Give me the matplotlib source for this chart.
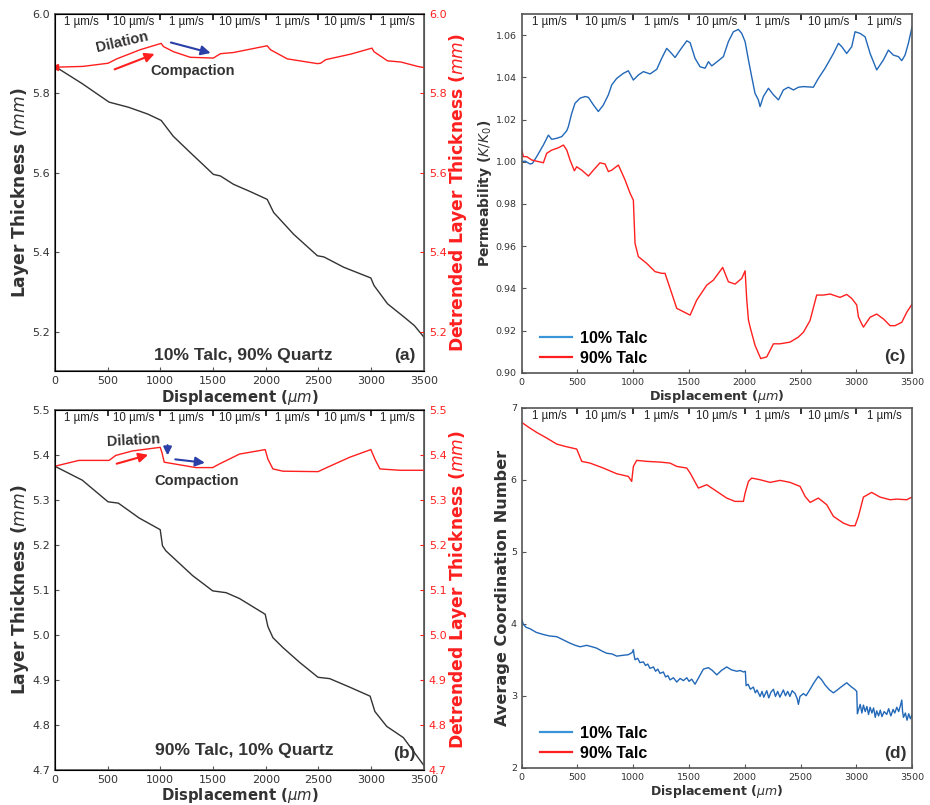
import matplotlib.pyplot as plt
from matplotlib.lines import Line2D
from matplotlib.transforms import blended_transform_factory

RED = '#ff1f1f'
BLUE = '#2268b8'
BLACK = '#333333'
GREY = '#555555'

speeds = ['1 µm/s', '10 µm/s', '1 µm/s', '10 µm/s', '1 µm/s', '10 µm/s', '1 µm/s']
step_edges = [500, 1000, 1500, 2000, 2500, 3000]
step_mids = [250, 750, 1250, 1750, 2250, 2750, 3250]

# (a) 10% talc, 90% quartz
a_x = [0, 257, 514, 700, 880, 1008, 1123, 1284, 1400, 1503, 1570, 1694, 1850, 2014, 2075,
       2265, 2490, 2552, 2740, 2997, 3027, 3155, 3310, 3410, 3500]
a_thick = [5.868, 5.825, 5.778, 5.765, 5.748, 5.732, 5.692, 5.651, 5.622, 5.596, 5.592, 5.571,
           5.553, 5.533, 5.500, 5.445, 5.391, 5.388, 5.362, 5.335, 5.316, 5.270, 5.237, 5.215, 5.186]
a_dx = [0, 266, 505, 587, 809, 1008, 1030, 1125, 1284, 1503, 1570, 1694, 2014, 2045, 2204,
        2490, 2521, 2569, 2807, 3007, 3027, 3155, 3283, 3440, 3500]
a_detr = [5.866, 5.868, 5.876, 5.887, 5.910, 5.926, 5.918, 5.905, 5.891, 5.889, 5.900, 5.903,
          5.920, 5.910, 5.887, 5.875, 5.876, 5.885, 5.899, 5.914, 5.905, 5.882, 5.879, 5.868, 5.865]

# (b) 90% talc, 10% quartz
b_x = [0, 260, 504, 602, 799, 999, 1021, 1053, 1306, 1497, 1624, 1751, 1995, 2020, 2068,
       2163, 2322, 2496, 2607, 2797, 2990, 3035, 3147, 3305, 3500]
b_thick = [5.375, 5.344, 5.296, 5.293, 5.260, 5.234, 5.198, 5.187, 5.132, 5.098, 5.094, 5.081,
           5.046, 5.019, 4.994, 4.972, 4.939, 4.906, 4.903, 4.884, 4.864, 4.830, 4.797, 4.772, 4.710]
b_dx = [0, 228, 514, 577, 736, 999, 1015, 1037, 1212, 1338, 1497, 1560, 1751, 1995, 2020,
        2068, 2163, 2496, 2607, 2797, 2997, 3035, 3083, 3273, 3500]
b_detr = [5.375, 5.388, 5.388, 5.399, 5.409, 5.417, 5.406, 5.384, 5.377, 5.372, 5.372, 5.380,
          5.402, 5.412, 5.391, 5.369, 5.364, 5.363, 5.375, 5.395, 5.412, 5.391, 5.369, 5.366, 5.366]

# (c) normalised permeability
c_blue_x = [0, 30, 75, 96, 134, 194, 239, 269, 314, 359, 404, 418, 448, 478, 523, 568, 598, 643,
            687, 732, 777, 807, 852, 912, 956, 1001, 1046, 1091, 1151, 1211, 1255, 1300, 1330,
            1375, 1420, 1480, 1510, 1554, 1599, 1644, 1674, 1704, 1764, 1808, 1853, 1898, 1943,
            1973, 2003, 2033, 2062, 2092, 2122, 2137, 2167, 2212, 2257, 2302, 2346, 2391, 2436,
            2481, 2526, 2615, 2660, 2720, 2795, 2840, 2870, 2914, 2959, 2989, 3034, 3079, 3124,
            3183, 3243, 3288, 3333, 3378, 3408, 3437, 3467, 3500]
c_blue = [1.000, 1.0003, 0.9989, 0.9992, 1.0024, 1.0079, 1.0126, 1.0106, 1.0111, 1.0119, 1.0147,
          1.0166, 1.0229, 1.0277, 1.0301, 1.0309, 1.0305, 1.0269, 1.0238, 1.0269, 1.0317, 1.0364,
          1.0395, 1.0419, 1.0431, 1.0387, 1.0411, 1.0427, 1.0416, 1.0438, 1.0490, 1.0537, 1.0521,
          1.0494, 1.0529, 1.0573, 1.0564, 1.0490, 1.0450, 1.0443, 1.0474, 1.0454, 1.0479, 1.0498,
          1.0569, 1.0616, 1.0627, 1.0608, 1.0569, 1.0482, 1.0403, 1.0324, 1.0293, 1.0261, 1.0309,
          1.0348, 1.0317, 1.0293, 1.0340, 1.0353, 1.0340, 1.0353, 1.0356, 1.0353, 1.0395, 1.0443,
          1.0513, 1.0561, 1.0545, 1.0513, 1.0545, 1.0616, 1.0608, 1.0592, 1.0513, 1.0435, 1.0482,
          1.0529, 1.0505, 1.0498, 1.0479, 1.0505, 1.0561, 1.0639]
c_red_x = [0, 15, 45, 90, 194, 224, 269, 329, 374, 404, 433, 472, 493, 538, 598, 643, 702, 747,
           777, 807, 867, 927, 972, 1001, 1016, 1046, 1121, 1196, 1255, 1285, 1330, 1390, 1450,
           1510, 1569, 1659, 1719, 1802, 1853, 1913, 1973, 2003, 2018, 2033, 2048, 2092, 2143,
           2197, 2257, 2316, 2406, 2481, 2526, 2585, 2645, 2705, 2765, 2854, 2914, 2959, 3004,
           3019, 3049, 3064, 3124, 3183, 3243, 3303, 3348, 3408, 3452, 3500]
c_red = [1.0055, 1.0024, 1.0024, 1.0008, 0.9995, 1.0040, 1.0055, 1.0066, 1.0079, 1.0055, 1.0008,
         0.9957, 0.9976, 0.9960, 0.9932, 0.9960, 0.9995, 0.9989, 0.9953, 0.9960, 0.9984, 0.9913,
         0.9850, 0.9818, 0.9613, 0.9550, 0.9518, 0.9479, 0.9471, 0.9471, 0.9400, 0.9305, 0.9289,
         0.9273, 0.9344, 0.9415, 0.9439, 0.9499, 0.9431, 0.9420, 0.9447, 0.9483, 0.9344, 0.9250,
         0.9216, 0.9130, 0.9067, 0.9075, 0.9137, 0.9137, 0.9145, 0.9169, 0.9192, 0.9247, 0.9368,
         0.9368, 0.9373, 0.9357, 0.9371, 0.9352, 0.9321, 0.9265, 0.9231, 0.9216, 0.9263, 0.9278,
         0.9255, 0.9223, 0.9223, 0.9239, 0.9286, 0.9325]

# (d) average coordination number
d_red_x = [0, 60, 134, 224, 314, 389, 493, 508, 538, 613, 732, 852, 956, 986, 1001, 1031, 1121,
           1240, 1330, 1390, 1480, 1510, 1584, 1659, 1749, 1838, 1913, 1988, 2003, 2033, 2062,
           2137, 2227, 2317, 2406, 2496, 2541, 2586, 2660, 2735, 2795, 2884, 2944, 2989, 3019,
           3064, 3138, 3213, 3303, 3363, 3452, 3500]
d_red = [6.796, 6.731, 6.657, 6.579, 6.495, 6.463, 6.426, 6.370, 6.255, 6.231, 6.162, 6.083,
         6.046, 5.977, 6.185, 6.269, 6.255, 6.245, 6.231, 6.185, 6.162, 6.093, 5.884, 5.931,
         5.838, 5.745, 5.699, 5.699, 5.815, 5.977, 6.023, 6.000, 5.963, 5.991, 5.963, 5.907,
         5.769, 5.685, 5.745, 5.653, 5.491, 5.398, 5.361, 5.361, 5.491, 5.759, 5.824, 5.759,
         5.722, 5.731, 5.722, 5.759]
d_blue_x = [0, 15, 40, 75, 130, 194, 250, 314, 380, 433, 480, 523, 583, 630, 673, 720, 762, 810,
            852, 900, 956, 990, 1001, 1008, 1016, 1040, 1060, 1091, 1110, 1130, 1150, 1181, 1200,
            1220, 1240, 1270, 1290, 1310, 1330, 1360, 1390, 1420, 1450, 1480, 1500, 1524, 1554,
            1590, 1629, 1674, 1710, 1749, 1790, 1838, 1880, 1928, 1960, 1988, 2005, 2012, 2030,
            2050, 2077, 2095, 2110, 2137, 2155, 2170, 2197, 2215, 2235, 2257, 2275, 2295, 2315,
            2346, 2365, 2385, 2405, 2425, 2451, 2470, 2481, 2495, 2526, 2550, 2586, 2620, 2660,
            2690, 2720, 2760, 2795, 2830, 2854, 2880, 2914, 2950, 2985, 3004, 3010, 3019, 3035,
            3050, 3064, 3080, 3095, 3110, 3124, 3140, 3155, 3170, 3183, 3200, 3215, 3230, 3250,
            3273, 3290, 3310, 3330, 3345, 3363, 3380, 3395, 3408, 3415, 3423, 3440, 3455, 3470,
            3485, 3500]
d_blue = [4.06, 3.99, 3.95, 3.93, 3.88, 3.85, 3.83, 3.82, 3.77, 3.73, 3.70, 3.68, 3.70, 3.68,
          3.66, 3.62, 3.59, 3.58, 3.55, 3.56, 3.57, 3.60, 3.64, 3.56, 3.50, 3.52, 3.46, 3.47,
          3.42, 3.44, 3.38, 3.40, 3.34, 3.37, 3.31, 3.33, 3.26, 3.28, 3.22, 3.25, 3.19, 3.24,
          3.21, 3.25, 3.20, 3.23, 3.16, 3.26, 3.37, 3.39, 3.35, 3.29, 3.35, 3.40, 3.36, 3.34,
          3.35, 3.33, 3.34, 3.14, 3.16, 3.09, 3.12, 3.04, 3.08, 2.99, 3.06, 2.98, 3.07, 2.97,
          3.05, 3.09, 2.99, 3.06, 2.98, 3.08, 3.00, 3.06, 2.99, 3.07, 3.03, 2.96, 2.88, 2.99,
          3.03, 3.00, 3.09, 3.18, 3.27, 3.22, 3.15, 3.08, 3.04, 3.08, 3.11, 3.14, 3.18, 3.13,
          3.09, 3.06, 2.75, 2.80, 2.88, 2.76, 2.87, 2.78, 2.85, 2.74, 2.84, 2.76, 2.83, 2.70,
          2.79, 2.72, 2.80, 2.71, 2.78, 2.74, 2.82, 2.72, 2.81, 2.76, 2.84, 2.78, 2.86, 2.94,
          2.78, 2.70, 2.76, 2.66, 2.75, 2.68, 2.74]

ann = dict(family='Liberation Sans', fontweight='bold', color='#333333')


def style_axes(ax, tick_size):
    ax.set_xlim(0, 3500)
    ax.set_xticks([0, 500, 1000, 1500, 2000, 2500, 3000, 3500])
    for s in ax.spines.values():
        s.set_color(GREY)
        s.set_linewidth(1.2)
    ax.tick_params(direction='in', length=3, labelsize=tick_size, colors=GREY, labelcolor='#333333')
    # rate steps along the top edge
    top = ax.secondary_xaxis('top')
    top.set_xticks(step_edges)
    top.set_xticklabels([])
    top.tick_params(direction='in', length=4, width=1.3, colors='#222222')
    top.spines['top'].set_visible(False)
    tr = blended_transform_factory(ax.transData, ax.transAxes)
    for xm, lab in zip(step_mids, speeds):
        ax.text(xm, 0.977, lab, transform=tr, ha='center', va='center',
                family='Liberation Sans', fontsize=8.3, color='#222222')


fig = plt.figure(figsize=(9.3, 8.05), dpi=100)

# ---- (a) ----
ax1 = fig.add_axes([0.059, 0.5388, 0.3968, 0.4438])
style_axes(ax1, 8)
ax1.set_ylim(5.1, 6.0)
ax1.set_yticks([5.2, 5.4, 5.6, 5.8, 6.0])
ax1.plot(a_x, a_thick, color=BLACK, lw=1.0)
ax1.set_ylabel('Layer Thickness ($mm$)', fontsize=12.3, fontweight='bold', color='#333333')
ax1.set_xlabel('Displacement ($\\mu m$)', fontsize=10.7, fontweight='bold', color='#333333', labelpad=1)
ax1.yaxis.set_label_coords(-0.065, 0.5)
ax1r = ax1.twinx()
ax1r.set_ylim(5.1, 6.0)
ax1r.set_yticks([5.2, 5.4, 5.6, 5.8, 6.0])
ax1r.plot(a_dx, a_detr, color=RED, lw=1.0)
ax1r.plot(a_dx[:1], a_detr[:1], marker='<', color=RED, ms=4)
ax1r.tick_params(direction='in', length=3, labelsize=8, colors=RED)
ax1r.spines['right'].set_color(GREY)
ax1r.set_ylabel('Detrended Layer Thickness ($mm$)', fontsize=12.3, fontweight='bold', color=RED)
ax1r.yaxis.set_label_coords(1.062, 0.5)
ax1r.text(637, 5.930, 'Dilation', rotation=13, ha='center', va='center', fontsize=10.5, **ann)
ax1r.text(1303, 5.856, 'Compaction', ha='center', va='center', fontsize=10.5, **ann)
ax1r.annotate('', xy=(970, 5.902), xytext=(542, 5.858),
              arrowprops=dict(arrowstyle='-|>', color=RED, lw=1.5, mutation_scale=14))
ax1r.annotate('', xy=(1503, 5.900), xytext=(1075, 5.930),
              arrowprops=dict(arrowstyle='-|>', color='#2a3fa8', lw=1.5, mutation_scale=14))
ax1.text(0.51, 0.045, '10% Talc, 90% Quartz', transform=ax1.transAxes, ha='center', va='center',
         fontsize=12.6, **ann)
ax1.text(0.948, 0.045, '(a)', transform=ax1.transAxes, ha='center', va='center', fontsize=12.6, **ann)

# ---- (b) ----
ax2 = fig.add_axes([0.059, 0.0435, 0.3968, 0.4472])
style_axes(ax2, 8)
ax2.set_ylim(4.7, 5.5)
ax2.set_yticks([4.7, 4.8, 4.9, 5.0, 5.1, 5.2, 5.3, 5.4, 5.5])
ax2.plot(b_x, b_thick, color=BLACK, lw=1.0)
ax2.set_ylabel('Layer Thickness ($mm$)', fontsize=12.3, fontweight='bold', color='#333333')
ax2.set_xlabel('Displacement ($\\mu m$)', fontsize=10.7, fontweight='bold', color='#333333', labelpad=1)
ax2.yaxis.set_label_coords(-0.065, 0.5)
ax2r = ax2.twinx()
ax2r.set_ylim(4.7, 5.5)
ax2r.set_yticks([4.7, 4.8, 4.9, 5.0, 5.1, 5.2, 5.3, 5.4, 5.5])
ax2r.plot(b_dx, b_detr, color=RED, lw=1.0)
ax2r.tick_params(direction='in', length=3, labelsize=8, colors=RED)
ax2r.spines['right'].set_color(GREY)
ax2r.set_ylabel('Detrended Layer Thickness ($mm$)', fontsize=12.3, fontweight='bold', color=RED)
ax2r.yaxis.set_label_coords(1.062, 0.5)
ax2r.text(745, 5.433, 'Dilation', rotation=3, ha='center', va='center', fontsize=10.5, **ann)
ax2r.text(1342, 5.342, 'Compaction', ha='center', va='center', fontsize=10.5, **ann)
ax2r.annotate('', xy=(910, 5.402), xytext=(561, 5.379),
              arrowprops=dict(arrowstyle='-|>', color=RED, lw=1.5, mutation_scale=14))
ax2r.annotate('', xy=(1069, 5.393), xytext=(1069, 5.428),
              arrowprops=dict(arrowstyle='-|>', color='#2a3fa8', lw=1.5, mutation_scale=12))
ax2r.annotate('', xy=(1449, 5.382), xytext=(1116, 5.391),
              arrowprops=dict(arrowstyle='-|>', color='#2a3fa8', lw=1.5, mutation_scale=14))
ax2.text(0.513, 0.054, '90% Talc, 10% Quartz', transform=ax2.transAxes, ha='center', va='center',
         fontsize=12.6, **ann)
ax2.text(0.946, 0.047, '(b)', transform=ax2.transAxes, ha='center', va='center', fontsize=12.6, **ann)

# ---- (c) ----
ax3 = fig.add_axes([0.561, 0.537, 0.4197, 0.4456])
style_axes(ax3, 6.8)
ax3.set_ylim(0.90, 1.07)
ax3.set_yticks([0.90, 0.92, 0.94, 0.96, 0.98, 1.00, 1.02, 1.04, 1.06])
ax3.set_yticklabels(['0.90', '0.92', '0.94', '0.96', '0.98', '1.00', '1.02', '1.04', '1.06'])
ax3.plot(c_blue_x, c_blue, color=BLUE, lw=1.0)
ax3.plot(c_red_x, c_red, color=RED, lw=1.0)
ax3.set_ylabel('Permeability ($K/K_0$)', fontsize=10, fontweight='bold', color='#333333')
ax3.set_xlabel('Displacement ($\\mu m$)', fontsize=9.2, fontweight='bold', color='#333333', labelpad=1)
ax3.yaxis.set_label_coords(-0.072, 0.5)
ax3.text(0.956, 0.045, '(c)', transform=ax3.transAxes, ha='center', va='center', fontsize=12.6, **ann)

# ---- (d) ----
ax4 = fig.add_axes([0.561, 0.0463, 0.4197, 0.4472])
style_axes(ax4, 6.8)
ax4.set_ylim(2, 7)
ax4.set_yticks([2, 3, 4, 5, 6, 7])
ax4.plot(d_blue_x, d_blue, color=BLUE, lw=1.0)
ax4.plot(d_red_x, d_red, color=RED, lw=1.0)
ax4.set_ylabel('Average Coordination Number', fontsize=11.6, fontweight='bold', color='#333333')
ax4.set_xlabel('Displacement ($\\mu m$)', fontsize=9, fontweight='bold', color='#333333', labelpad=1)
ax4.yaxis.set_label_coords(-0.03, 0.5)
ax4.text(0.956, 0.04, '(d)', transform=ax4.transAxes, ha='center', va='center', fontsize=12.6, **ann)

handles = [Line2D([], [], color='#3a95d8', lw=1.6), Line2D([], [], color=RED, lw=1.6)]
for ax in (ax3, ax4):
    ax.legend(handles, ['10% Talc', '90% Talc'], loc='lower left', frameon=False,
              prop=dict(family='Liberation Sans', weight='bold', size=11.5),
              handlelength=2.0, handletextpad=0.5, labelspacing=0.3,
              bbox_to_anchor=(0.01, -0.02))

fig.savefig('out.png', dpi=100)
